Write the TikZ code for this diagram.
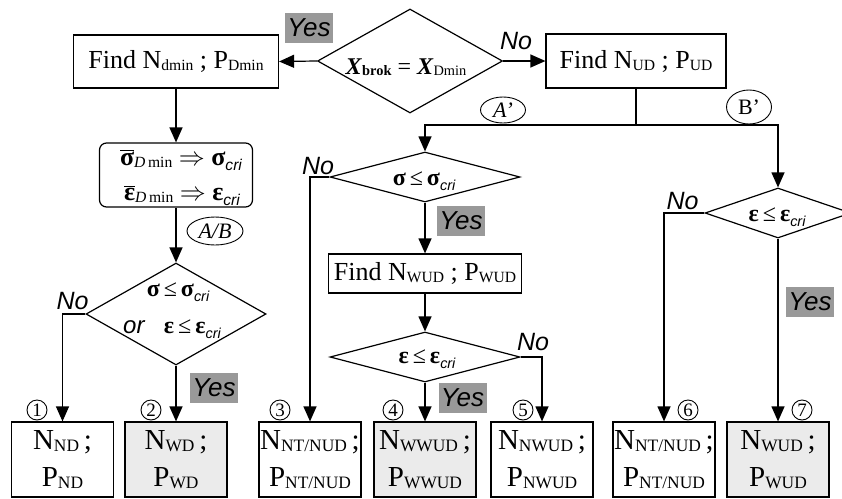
\documentclass[tikz,border=0pt]{standalone}
\usepackage{fix-cm}
\usepackage{graphicx}
\usepackage{fontspec}
\setmainfont{Liberation Serif}
\newfontfamily\ar{Liberation Sans}
\usetikzlibrary{shapes.geometric,arrows.meta}
\newcommand{\sbs}[1]{\raisebox{-0.08em}{\scalebox{0.6}{#1}}}
\newcommand{\sbc}{\raisebox{-0.22em}{\scalebox{0.6}{\ar\itshape cri}}}
\newcommand{\sig}{\textbf{σ}}
\newcommand{\eps}{\textbf{ε}}
\begin{document}
\begin{tikzpicture}[x=1pt,y=-1pt,line width=1.2pt,
  box/.style={draw,rectangle,inner sep=0pt,font=\fontsize{26}{30}\selectfont},
  dia/.style={draw,diamond,inner sep=0pt},
  txt/.style={anchor=base,inner sep=0pt,font=\fontsize{26}{30}\selectfont},
  res/.style={draw,rectangle,inner sep=0pt,minimum width=102pt,minimum height=75pt,align=center,font=\fontsize{29}{37}\selectfont},
  resg/.style={res,fill=black!8},
  yeslab/.style={fill=black!40,inner sep=0pt,minimum width=48pt,minimum height=30pt,font=\ar\itshape\fontsize{26}{30}\selectfont},
  nolab/.style={inner sep=0pt,font=\ar\itshape\fontsize{25}{30}\selectfont},
  num/.style={draw,circle,inner sep=0pt,minimum size=20pt,line width=0.9pt,font=\fontsize{19}{19}\selectfont},
  ell/.style={draw,ellipse,inner sep=0pt,line width=0.9pt,font=\fontsize{22}{24}\selectfont},
  arr/.style={-{Triangle[length=15pt,width=13pt]}}]
\useasboundingbox (0,0) rectangle (842,498);
\clip (0,0) rectangle (842,498);

% top row
\node[dia,minimum width=185pt,minimum height=104pt] (d0) at (410,61) {};
\node[txt,font=\fontsize{24}{28}\selectfont] (t0) at (406,74) {\textbf{\textit{X}}\sbs{\textbf{brok}} = \textbf{\textit{X}}\sbs{Dmin}};
\node[box,minimum width=205pt,minimum height=53pt] (fd) at (176,61.5) {Find N\sbs{dmin} ; P\sbs{Dmin}};
\node[box,minimum width=180pt,minimum height=54pt] (fud) at (636,61) {Find N\sbs{UD} ; P\sbs{UD}};
\node[yeslab] (y0) at (309,28) {Yes};
\node[nolab] (n0) at (516,41.5) {No};

% left column
\node[box,rounded corners=7pt,minimum width=153pt,minimum height=64pt] (rb) at (176,175) {};
\node[txt] (t1) at (181,165) {$\overline{\hbox{\sig}}$\sbs{\textit{D}\,min} $\Rightarrow$ \sig\sbc};
\node[txt] (t2) at (182,200) {$\overline{\hbox{\eps}}$\sbs{\textit{D}\,min} $\Rightarrow$ \eps\sbc};
\node[ell,minimum width=56pt,minimum height=28pt] (ab) at (215,231) {\textit{A/B}};
\node[dia,minimum width=180pt,minimum height=102pt] (dL) at (176,314) {};
\node[txt,font=\fontsize{24}{28}\selectfont] (t3) at (178,296) {\sig\,≤\,\sig\sbc};
\node[txt,font=\fontsize{24}{28}\selectfont] (t4) at (172,333) {{\ar\itshape or}\;\; \eps\,≤\,\eps\sbc};
\node[yeslab] (y1) at (214,387.5) {Yes};
\node[nolab] (n1) at (72.5,301) {No};

% middle column
\coordinate (j) at (636,125);
\node[ell,minimum width=45pt,minimum height=26pt] (ap) at (503,110) {\textit{A’}};
\node[ell,minimum width=45pt,minimum height=34pt] (bp) at (749,107) {B’};
\node[dia,minimum width=190pt,minimum height=50pt] (dM) at (425,177) {};
\node[txt,font=\fontsize{24}{28}\selectfont] (t5) at (424,185) {\sig\,≤\,\sig\sbc};
\node[nolab] (n2) at (318,166) {No};
\node[yeslab] (y2) at (461,221) {Yes};
\node[box,minimum width=193pt,minimum height=39pt] (fw) at (425,273.5) {Find N\sbs{WUD} ; P\sbs{WUD}};
\node[dia,minimum width=190pt,minimum height=50pt] (dE) at (425,357) {};
\node[txt,font=\fontsize{24}{28}\selectfont] (t6) at (427,363) {\eps\,≤\,\eps\sbc};
\node[nolab] (n3) at (533,342.5) {No};
\node[yeslab] (y3) at (462.5,398) {Yes};

% right column
\node[dia,minimum width=146pt,minimum height=50pt] (dR) at (778,213) {};
\node[txt,font=\fontsize{24}{28}\selectfont] (t7) at (777,221) {\eps\,≤\,\eps\sbc};
\node[nolab] (n4) at (682.5,201.5) {No};
\node[yeslab] (y4) at (810,302) {Yes};

% result boxes
\node[res]  (b1) at (62.5,459.5) {N\sbs{ND}\,;\\P\sbs{ND}};
\node[resg] (b2) at (176,459.5) {N\sbs{WD}\,;\\P\sbs{WD}};
\node[res]  (b3) at (310,459.5) {N\sbs{NT/NUD}\,;\\P\sbs{NT/NUD}};
\node[resg] (b4) at (425,459.5) {N\sbs{WWUD}\,;\\P\sbs{WWUD}};
\node[res]  (b5) at (542,459.5) {N\sbs{NWUD}\,;\\P\sbs{NWUD}};
\node[res]  (b6) at (664,459.5) {N\sbs{NT/NUD}\,;\\P\sbs{NT/NUD}};
\node[resg] (b7) at (778,459.5) {N\sbs{WUD}\,;\\P\sbs{WUD}};

\node[num] (c1) at (37,410) {1};
\node[num] (c2) at (151,410) {2};
\node[num] (c3) at (280,410) {3};
\node[num] (c4) at (393,410) {4};
\node[num] (c5) at (523,410) {5};
\node[num] (c6) at (688,410) {6};
\node[num] (c7) at (802,410) {7};

% connectors
\draw[arr] (d0.west) -- (fd.east);
\draw[arr] (d0.east) -- (fud.west);
\draw[arr] (fd.south) -- (rb.north);
\draw[arr] (rb.south) -- (dL.north);
\draw[arr] (dL.west) -| (b1.north);
\draw[arr] (dL.south) -- (b2.north);
\draw (fud.south) -- (j);
\draw[arr] (j) -| (dM.north);
\draw[arr] (j) -| (dR.north);
\draw[arr] (dM.west) -| (b3.north);
\draw[arr] (dM.south) -- (fw.north);
\draw[arr] (fw.south) -- (dE.north);
\draw[arr] (dE.south) -- (b4.north);
\draw[arr] (dE.east) -| (b5.north);
\draw[arr] (dR.west) -| (b6.north);
\draw[arr] (dR.south) -- (b7.north);
\end{tikzpicture}
\end{document}
